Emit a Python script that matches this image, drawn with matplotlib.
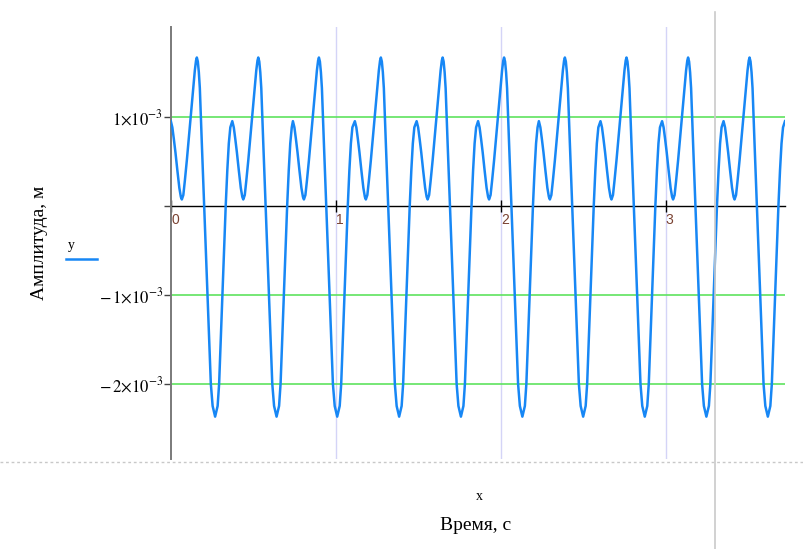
import numpy as np
import matplotlib
matplotlib.use("Agg")
import matplotlib.pyplot as plt
from matplotlib.lines import Line2D

plt.rcParams["font.family"] = ["Liberation Serif", "DejaVu Serif"]
plt.rcParams["mathtext.fontset"] = "stix"

# one oscillation period, starting from the secondary (lower) peak
period_offset_s = [0.0, 0.0091, 0.0182, 0.0279, 0.0394, 0.0516, 0.0607, 0.0667,
                   0.0758, 0.0850, 0.0971, 0.1092, 0.1214, 0.1335, 0.1456, 0.1529,
                   0.1578, 0.1638, 0.1699, 0.1760, 0.1820, 0.1881, 0.1942, 0.2027,
                   0.2124, 0.2227, 0.2330, 0.2427, 0.2536, 0.2688, 0.2840, 0.2931,
                   0.3034, 0.3131, 0.3228, 0.3331, 0.3428, 0.3519, 0.3610]
period_y_mm = [0.95, 0.88, 0.75, 0.60, 0.40, 0.20, 0.10, 0.07,
               0.12, 0.28, 0.51, 0.76, 1.00, 1.27, 1.52, 1.63,
               1.665, 1.62, 1.50, 1.32, 1.00, 0.70, 0.40, 0.0,
               -0.48, -1.0, -1.5, -2.0, -2.25, -2.37, -2.25, -2.0,
               -1.5, -1.0, -0.5, 0.0, 0.40, 0.70, 0.88]

# time of the secondary peak opening each period, plus the last sample
period_start_s = [-0.004, 0.369, 0.737, 1.113, 1.488, 1.861, 2.230, 2.604, 2.978, 3.351]
last_t, last_y_mm = 3.724, 0.95

y_ticks = [-2e-3, -1e-3, 0.0, 1e-3]
y_tick_labels = [r"$-\,2{\times}10^{-3}$", r"$-\,1{\times}10^{-3}$", "", r"$1{\times}10^{-3}$"]
x_ticks = [0, 1, 2, 3]
x_tick_labels = ["0", "1", "2", "3"]

t = np.concatenate([np.add(s, period_offset_s) for s in period_start_s] + [[last_t]])
y = np.concatenate([period_y_mm] * len(period_start_s) + [[last_y_mm]]) * 1e-3

W, H = 804, 549
fig = plt.figure(figsize=(W / 100, H / 100), dpi=100)
ax = fig.add_axes([171.5 / W, 1 - 459 / H, (785 - 171.5) / W, (459 - 27) / H])

ax.plot(t, y, color="#1787f5", lw=1.8, solid_joinstyle="round", zorder=3)
ax.set_xlim(0, 3.724)
ax.set_ylim(-2.846e-3, 2.008e-3)

for side in ("top", "right"):
    ax.spines[side].set_visible(False)
ax.spines["bottom"].set_position(("data", 0))
ax.spines["bottom"].set_color("black")
ax.spines["bottom"].set_linewidth(1.0)
ax.spines["bottom"].set_zorder(1)
ax.spines["left"].set_color("#7a7a7a")
ax.spines["left"].set_linewidth(1.4)

ax.set_xticks(x_ticks, x_tick_labels)
ax.set_yticks(y_ticks, y_tick_labels)
ax.tick_params(axis="x", direction="inout", length=8, width=1, color="black", pad=1,
               labelsize=10, labelcolor="#7a4232")
ax.tick_params(axis="y", direction="out", length=5, width=1, color="#444444", pad=1,
               labelsize=12)
for lbl in ax.get_xticklabels():
    lbl.set_ha("left")
    lbl.set_family(["Liberation Sans", "DejaVu Sans"])

ax.grid(axis="y", color="#5fe35f", lw=1.2)
ax.grid(axis="x", color="#d4d4f7", lw=1.0)
ax.set_axisbelow(True)
ax.get_ygridlines()[y_ticks.index(0.0)].set_visible(False)
ax.get_xgridlines()[0].set_visible(False)

# axis titles and trace legend
fig.text(40 / W, 1 - 243 / H, "Амплитуда, м", rotation=90, ha="center", va="center", fontsize=14)
fig.text(479 / W, 1 - 497 / H, "x", ha="center", va="center", fontsize=10)
fig.text(476 / W, 1 - 526 / H, "Время, с", ha="center", va="center", fontsize=14)
fig.text(71 / W, 1 - 245 / H, "y", ha="center", va="center", fontsize=10)
fig.add_artist(Line2D([66 / W, 97 / W], [1 - 259 / H] * 2, color="#1787f5", lw=1.8))

# worksheet region borders
fig.add_artist(Line2D([0, 1], [1 - 462 / H] * 2, color="#c8c8c8", lw=1.0, ls=(0, (2, 2))))
fig.add_artist(Line2D([715.5 / W] * 2, [0, 1 - 12 / H], color="#cacaca", lw=1.2))

fig.savefig("out.png", dpi=100)
